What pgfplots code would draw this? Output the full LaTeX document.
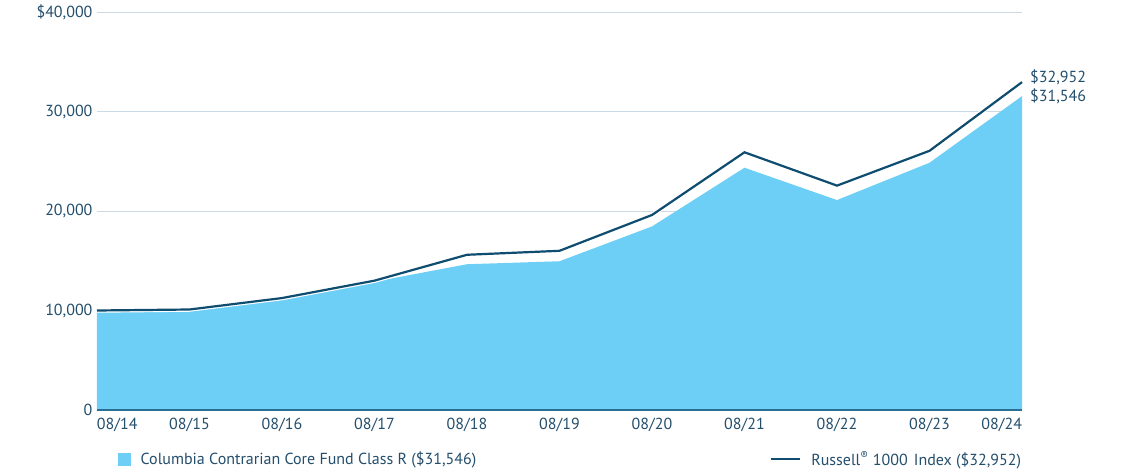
\documentclass[border=0pt]{standalone}
\usepackage{fontspec}
\setmainfont{PT Sans}
\usepackage{pgfplots}
\pgfplotsset{compat=1.18}
\definecolor{fundblue}{HTML}{6DCFF6}
\definecolor{navy}{HTML}{0E4D70}
\definecolor{txt}{HTML}{234E6C}
\definecolor{gridc}{HTML}{C9D9E5}
\definecolor{axisc}{HTML}{2B6E93}
\newcommand{\lbl}{\fontsize{16}{19}\selectfont}

\begin{document}
\begin{tikzpicture}
\begin{axis}[
    scale only axis,
    width=925pt, height=398pt,
    xmin=0, xmax=10, ymin=0, ymax=40000,
    axis line style={draw=none},
    tick style={draw=none},
    scaled y ticks=false,
    xtick={0,...,10},
    xticklabels={\makebox[0pt][l]{08/14},08/15,08/16,08/17,08/18,08/19,08/20,08/21,08/22,08/23,\makebox[0pt][r]{08/24}},
    ytick={0,10000,20000,30000,40000},
    yticklabels={0,{10,000},{20,000},{30,000},{\$40,000}},
    ymajorgrids,
    grid style={gridc, line width=0.8pt},
    ticklabel style={font=\lbl, text=txt},
    xticklabel style={yshift=-5pt},
    yticklabel style={xshift=-1pt},
    clip=false,
    legend style={at={(rel axis cs:0,0)}, anchor=west, xshift=18pt, yshift=-49pt,
        draw=none, fill=none, font=\lbl, text=txt, legend columns=2,
        nodes={inner sep=0pt},
        /tikz/every odd column/.append style={column sep=10pt},
        /tikz/every even column/.append style={column sep=294pt}},
    legend cell align=left,
]
\addplot[fill=fundblue, draw=none, forget plot] coordinates {
    (0,10000) (1,10080) (2,11220) (3,12900) (4,14650) (5,14950)
    (6,18450) (7,24350) (8,21100) (9,24850) (10,31546)
} \closedcycle;
\addplot[white, line width=4.5pt, forget plot] coordinates {
    (0,10000) (1,10100) (2,11250) (3,13000) (4,15600) (5,16000)
    (6,19600) (7,25900) (8,22550) (9,26050) (10,32952)
};
\addplot[navy, line width=2.2pt, forget plot] coordinates {
    (0,10000) (1,10100) (2,11250) (3,13000) (4,15600) (5,16000)
    (6,19600) (7,25900) (8,22550) (9,26050) (10,32952)
};
\draw[axisc, line width=2pt] (axis cs:0,0) -- (axis cs:10,0);
\addlegendimage{legend image code/.code={\fill[fundblue] (0pt,-6pt) rectangle (12pt,6pt);}}
\addlegendentry{Columbia Contrarian Core Fund Class R (\$31,546)}
\addlegendimage{legend image code/.code={\draw[navy, line width=2.2pt] (0pt,0pt) -- (29pt,0pt);}}
\addlegendentry{Russell\textsuperscript{®} 1000\hspace{6pt}Index (\$32,952)}
\node[anchor=west, inner sep=0pt, font=\lbl, text=txt] at (axis cs:10,32952) [xshift=8pt, yshift=5pt] {\$32,952};
\node[anchor=west, inner sep=0pt, font=\lbl, text=txt] at (axis cs:10,31546) [xshift=8pt, yshift=0pt] {\$31,546};
\end{axis}
\pgfresetboundingbox
\path[use as bounding box] ([shift={(-97pt,-61pt)}]current axis.south west) rectangle ([shift={(1024pt,410pt)}]current axis.south west);
\end{tikzpicture}
\end{document}
